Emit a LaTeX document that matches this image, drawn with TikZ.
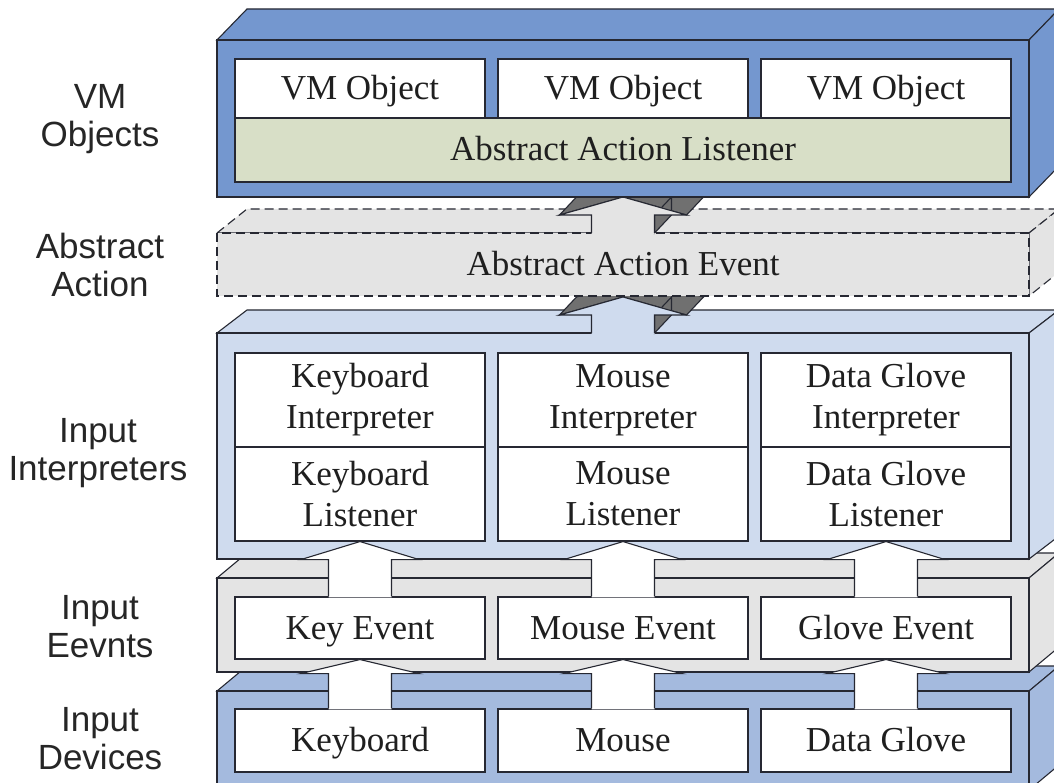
\documentclass[tikz,border=0pt]{standalone}
\usepackage{fontspec}
\setmainfont{Liberation Serif}
\newfontfamily\sidefont{Liberation Sans}
\usetikzlibrary{calc}

\definecolor{linec}{RGB}{38,40,50}
\definecolor{vmblue}{RGB}{116,151,207}
\definecolor{devblue}{RGB}{164,186,222}
\definecolor{intblue}{RGB}{207,219,238}
\definecolor{evgray}{RGB}{228,228,228}
\definecolor{lstolive}{RGB}{216,223,199}
\definecolor{sidegray}{RGB}{112,112,112}

\tikzset{
  edge/.style={draw=linec, line width=1.1pt},
  dashedge/.style={draw=linec, line width=1.1pt, dash pattern=on 9pt off 5pt},
  cell/.style={edge, fill=white, inner sep=0pt, minimum width=250pt,
    align=center, text=black!88, font=\fontsize{35}{41}\selectfont},
  oneline/.style={text height=23pt, text depth=1pt},
  sidelabel/.style={align=center, text=black!85,
    font=\sidefont\fontsize{35}{38}\selectfont},
}

% one layer slab: front face, top face and right face in oblique view
% #1 outline style, #2 front top y, #3 front bottom y, #4 depth, #5 fill
\newcommand\slab[5]{%
  \filldraw[#1,fill=#5] (217,#2) -- (247,{#2-#4}) -- (1059,{#2-#4}) -- (1029,#2) -- cycle;
  \filldraw[#1,fill=#5] (1029,#2) -- (1059,{#2-#4}) -- (1059,{#3-#4}) -- (1029,#3) -- cycle;
  \filldraw[#1,fill=#5] (217,#2) rectangle (1029,#3);
}

% flat white block arrow from the top of one box to the bottom of another
% #1 source node, #2 target node, #3 head height
\newcommand\passup[3]{%
  \fill[white] ($(#1.north)+(-31.5,0.8)$) -- ($(#2.south)+(-31.5,#3)$)
    -- ($(#2.south)+(-59,#3)$) -- (#2.south) -- ($(#2.south)+(59,#3)$)
    -- ($(#2.south)+(31.5,#3)$) -- ($(#1.north)+(31.5,0.8)$) -- cycle;
  \draw[edge] ($(#1.north)+(-31.5,0)$) -- ($(#2.south)+(-31.5,#3)$)
    -- ($(#2.south)+(-59,#3)$) -- (#2.south) -- ($(#2.south)+(59,#3)$)
    -- ($(#2.south)+(31.5,#3)$) -- ($(#1.north)+(31.5,0)$);
}

% extruded block arrow between two layers
% #1 foot coordinate, #2 tip coordinate, #3 front fill, #4 head height
\newcommand\liftarrow[4]{%
  \path ($(#1)+(-31.5,0)$) coordinate (q1)
        ($(#2)+(-31.5,#4)$) coordinate (q2)
        ($(#2)+(-63.5,#4)$) coordinate (q3)
        (#2) coordinate (q4)
        ($(#2)+(63.5,#4)$) coordinate (q5)
        ($(#2)+(31.5,#4)$) coordinate (q6)
        ($(#1)+(31.5,0)$) coordinate (q7);
  \foreach \a/\b in {q3/q4,q4/q5,q6/q7}
    \filldraw[edge, fill=sidegray] (\a) -- (\b) -- ($(\b)+(17,-18)$) -- ($(\a)+(17,-18)$) -- cycle;
  \fill[#3] ($(q1)+(0,0.8)$) -- (q2) -- (q3) -- (q4) -- (q5) -- (q6) -- ($(q7)+(0,0.8)$) -- cycle;
  \draw[edge] (q1) -- (q2) -- (q3) -- (q4) -- (q5) -- (q6) -- (q7);
}

\begin{document}
\begin{tikzpicture}[x=1pt,y=-1pt,line join=miter]
\useasboundingbox (0,0) rectangle (1054,783);
\fill[white] (0,0) rectangle (1054,783);

% row labels
\node[sidelabel] (lvm) at (100,119) {VM\\Objects};
\node[sidelabel] (laa) at (100,265) {Abstract\\Action};
\node[sidelabel] (lii) at (98,453) {Input\\Interpreters};
\node[sidelabel] (lie) at (100,627) {Input\\Eevnts};
\node[sidelabel] (lid) at (100,739) {Input\\Devices};

% input devices
\slab{edge}{691}{790}{25}{devblue}
\node[cell, oneline, minimum height=63pt] (kbd) at (360,740.5) {Keyboard};
\node[cell, oneline, minimum height=63pt] (mou) at (623,740.5) {Mouse};
\node[cell, oneline, minimum height=63pt] (glv) at (886,740.5) {Data Glove};

% input events
\slab{edge}{578}{672}{25}{evgray}
\node[cell, oneline, minimum height=62pt] (kev) at (360,628) {Key Event};
\node[cell, oneline, minimum height=62pt] (mev) at (623,628) {Mouse Event};
\node[cell, oneline, minimum height=62pt] (gev) at (886,628) {Glove Event};

% input interpreters
\slab{edge}{333}{559}{23}{intblue}
\node[cell, minimum height=94pt] (kbi) at (360,400) {Keyboard\\Interpreter};
\node[cell, minimum height=94pt] (moi) at (623,400) {Mouse\\Interpreter};
\node[cell, minimum height=94pt] (gli) at (886,400) {Data Glove\\Interpreter};
\node[cell, minimum height=94pt] (kbl) at (360,494) {Keyboard\\Listener};
\node[cell, minimum height=94pt] (mol) at (623,494) {Mouse\\Listener};
\node[cell, minimum height=94pt] (gll) at (886,494) {Data Glove\\Listener};

% device -> event -> listener
\passup{kbd}{kev}{14}
\passup{mou}{mev}{14}
\passup{glv}{gev}{14}
\passup{kev}{kbl}{18}
\passup{mev}{mol}{18}
\passup{gev}{gll}{18}

% interpreters -> abstract action event
\coordinate (intfoot) at (623,333);
\coordinate (aaebottom) at (623,297);
\liftarrow{intfoot}{aaebottom}{intblue}{18}

% abstract action layer
\slab{dashedge}{233}{296}{24}{evgray}
\node[oneline, font=\fontsize{35}{41}\selectfont, text=black!88] (aae) at (623,265) {Abstract Action Event};

% abstract action event -> abstract action listener
\coordinate (aaefoot) at (623,233);
\coordinate (vmbottom) at (623,197);
\liftarrow{aaefoot}{vmbottom}{evgray}{18}

% VM objects
\slab{edge}{40}{197}{31}{vmblue}
\node[cell, oneline, minimum height=59pt] (vm1) at (360,88.5) {VM Object};
\node[cell, oneline, minimum height=59pt] (vm2) at (623,88.5) {VM Object};
\node[cell, oneline, minimum height=59pt] (vm3) at (886,88.5) {VM Object};
\node[cell, oneline, fill=lstolive, minimum width=776pt, minimum height=64pt] (aal) at (623,150) {Abstract Action Listener};
\end{tikzpicture}
\end{document}
